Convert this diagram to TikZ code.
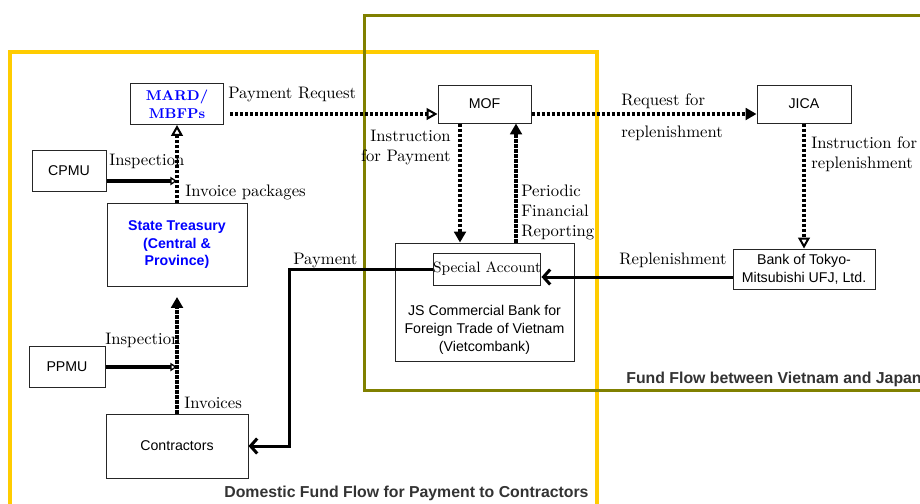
\documentclass[tikz,border=0pt]{standalone}
\usepackage{fontspec}
\setsansfont{Liberation Sans}
\usepackage{xcolor}
\usepackage{tikz}
\usetikzlibrary{arrows.meta,calc}

\definecolor{domyellow}{HTML}{FFCC00}
\definecolor{flowolive}{HTML}{808000}
\definecolor{capgray}{HTML}{333333}

\begin{document}
\begin{tikzpicture}[x=0.6pt,y=-0.6pt]

\useasboundingbox (0,0) rectangle (920,503);

\tikzstyle{orgbox} = [draw=black!85, line width=0.6pt, rectangle, inner sep=1pt, align=center, font=\sffamily\fontsize{8.5}{10.8}\selectfont]
\tikzstyle{lbl} = [inner sep=0pt, font=\fontsize{10}{12}\selectfont]
\tikzstyle{caption} = [inner sep=0pt, text=capgray, font=\sffamily\bfseries\fontsize{9.5}{11}\selectfont]
\tikzstyle{docflow} = [line width=2pt, dash pattern=on 2pt off 1pt]
\tikzstyle{fillhead} = [-{Triangle[length=6.5pt,width=7pt]}]
\tikzstyle{openhead} = [-{Triangle[open,length=6.5pt,width=7pt,line width=1.2pt,fill=white]}]
\tikzstyle{money} = [line width=1.8pt, -{Straight Barb[length=4pt,width=9pt,line width=1.8pt]}]
\tikzstyle{insp} = [line width=1.9pt, -{Triangle[open,length=4pt,width=5pt,line width=0.8pt,fill=white]}]

% frames of the two flows
\draw [domyellow, line width=2.4pt] (10,510) -- (10,52) -- (597,52) -- (597,510);
\draw [flowolive, line width=1.8pt] (925,15) -- (364,15) -- (364,390) -- (925,390);

% domestic side
\node (mard) [orgbox, minimum width=55.8pt, minimum height=24.6pt, text=blue, font=\bfseries\fontsize{8.5}{10.8}\selectfont] at (177,104) {MARD/\\MBFPs};
\node (cpmu) [orgbox, minimum width=44.4pt, minimum height=24.6pt] at (69,171) {CPMU};
\node (treas) [orgbox, minimum width=84pt, minimum height=49.8pt, text=blue, font=\sffamily\bfseries\fontsize{8.5}{10.5}\selectfont] at (177,245) {State Treasury\\(Central \&\\Province)};
\node (ppmu) [orgbox, minimum width=45.6pt, minimum height=24.6pt] at (67,367) {PPMU};
\node (contr) [orgbox, minimum width=85.2pt, minimum height=38.4pt] at (177,446) {Contractors};

% vietnam - japan side
\node (mof) [orgbox, minimum width=55.8pt, minimum height=22.8pt] at (484.5,104) {MOF};
\node (jica) [orgbox, minimum width=56.4pt, minimum height=22.8pt] at (804,104) {JICA};
\node (btmu) [orgbox, minimum width=85.2pt, minimum height=24pt] at (804,269) {Bank of Tokyo-\\Mitsubishi UFJ, Ltd.};
\node (vcb) [orgbox, minimum width=107.4pt, minimum height=70.8pt] at (484.5,302) {};
\node (spec) [orgbox, minimum width=63.6pt, minimum height=19.2pt, inner sep=0pt, font=\fontsize{9}{11}\selectfont] at (487,269) {Special Account};
\node (vcbtext) [inner sep=0pt, align=center, font=\sffamily\fontsize{8.5}{10.8}\selectfont] at (484.5,330) {JS Commercial Bank for\\Foreign Trade of Vietnam\\(Vietcombank)};

% documents
\draw [docflow,openhead] ([xshift=3.6pt,yshift=-6pt]mard.east) -- ([yshift=-6pt]mof.west);
\draw [docflow,fillhead] ([yshift=-6pt]mof.east) -- ([yshift=-6pt]jica.west);
\draw [docflow,fillhead] ([xshift=-14.7pt]mof.south) -- ([xshift=-14.7pt]vcb.north);
\draw [docflow,fillhead] ([xshift=18.9pt]vcb.north) -- ([xshift=18.9pt]mof.south);
\draw [docflow,openhead] (jica.south) -- (btmu.north);
\draw [docflow,openhead] (treas.north) -- (mard.south);
\draw [docflow,fillhead] (contr.north) -- ([yshift=-6pt]treas.south);

% money
\draw [money] ([yshift=-4.8pt]btmu.west) -- ([yshift=-4.8pt]spec.east);
\draw [money] (spec.west) -| ([xshift=24.6pt]contr.east) -- (contr.east);

% inspections
\draw [insp] ([yshift=-6pt]cpmu.east) -- ([yshift=-6pt]cpmu.east -| mard.south);
\draw [insp] (ppmu.east) -- (ppmu.east -| contr.north);

% labels
\node (lpayreq) [lbl, anchor=west] at (228,95) {Payment Request};
\node (lreqfor) [lbl, anchor=west] at (621,101) {Request for};
\node (lrepl) [lbl, anchor=west] at (621,133) {replenishment};
\node (linstpay) [lbl, anchor=east, align=right] at (451,148) {Instruction\\for Payment};
\node (lperiodic) [lbl, anchor=west, align=left] at (521,212) {Periodic\\Financial\\Reporting};
\node (linstrepl) [lbl, anchor=west, align=left] at (811,154) {Instruction for\\replenishment};
\node (lreplen) [lbl, anchor=east] at (727,260) {Replenishment};
\node (lpay) [lbl, anchor=west] at (293,261) {Payment};
\node (linsp1) [lbl, anchor=west] at (109,161) {Inspection};
\node (linvpack) [lbl, anchor=west] at (185,192) {Invoice packages};
\node (linsp2) [lbl, anchor=west] at (105,340) {Inspection};
\node (linv) [lbl, anchor=west] at (184,403) {Invoices};

\node (capjapan) [caption, anchor=west] at (626,379) {Fund Flow between Vietnam and Japan};
\node (capdom) [caption, anchor=west] at (224,493) {Domestic Fund Flow for Payment to Contractors};

\end{tikzpicture}
\end{document}
